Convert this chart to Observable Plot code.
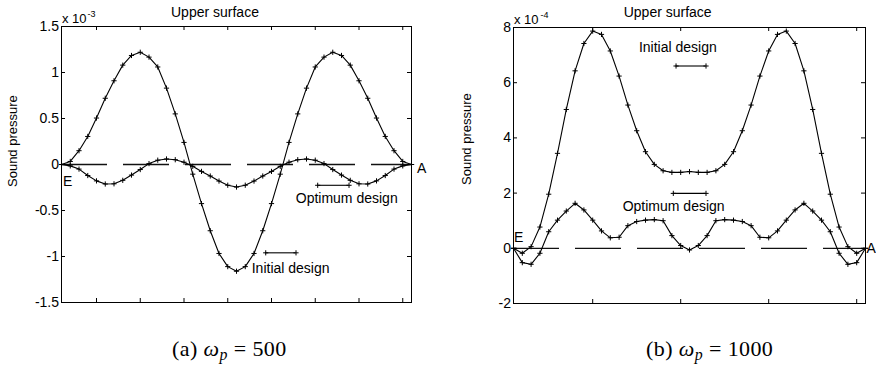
<!DOCTYPE html>
<html><head><meta charset="utf-8">
<script src="https://cdn.jsdelivr.net/npm/d3@7"></script>
<script src="https://cdn.jsdelivr.net/npm/@observablehq/plot@0.6"></script>
<style>
body{margin:0;background:#fff;}
#wrap{position:relative;width:876px;height:367px;overflow:hidden;background:#fff;}
#wrap svg{position:absolute;top:0;}
.cap{position:absolute;top:338px;font-family:"Liberation Serif","Times New Roman",serif;font-size:22px;letter-spacing:0.4px;line-height:1;white-space:nowrap;color:#000;}
.cap i{font-style:italic;}
.cap sub{font-style:italic;font-size:0.72em;vertical-align:-0.28em;line-height:0;}
</style></head><body><div id="wrap"></div>
<script>
// point index along the upper surface (E -> A)
const pointIndex = d3.range(41);

// (a) omega_p = 500, values x 1e-3
const initialA = [0, 0.033, 0.15, 0.305, 0.505, 0.72, 0.91, 1.08, 1.185, 1.22, 1.167, 1.06, 0.83, 0.55, 0.24, -0.105, -0.425, -0.72, -0.967, -1.11, -1.16,
  -1.11, -0.967, -0.72, -0.425, -0.105, 0.24, 0.55, 0.83, 1.06, 1.167, 1.22, 1.185, 1.08, 0.91, 0.72, 0.505, 0.305, 0.15, 0.033, 0];
const optimumA = [0, -0.015, -0.05, -0.12, -0.178, -0.212, -0.21, -0.172, -0.115, -0.055, 0.01, 0.047, 0.06, 0.052, 0.025, -0.02, -0.075, -0.125, -0.18, -0.225, -0.245,
  -0.225, -0.18, -0.125, -0.075, -0.02, 0.025, 0.052, 0.06, 0.047, 0.01, -0.055, -0.115, -0.172, -0.21, -0.212, -0.178, -0.12, -0.05, -0.015, 0];

// (b) omega_p = 1000, values x 1e-4
const initialB = [0, -0.18, 0.06, 0.77, 1.96, 3.44, 5.03, 6.43, 7.42, 7.87, 7.75, 7.15, 6.24, 5.19, 4.26, 3.5, 3.04, 2.81, 2.75, 2.75, 2.78,
  2.75, 2.75, 2.81, 3.04, 3.5, 4.26, 5.19, 6.24, 7.15, 7.75, 7.87, 7.42, 6.43, 5.03, 3.44, 1.96, 0.77, 0.06, -0.18, 0];
const optimumB = [0, -0.52, -0.58, -0.18, 0.6, 1.02, 1.35, 1.63, 1.39, 1.02, 0.63, 0.38, 0.4, 0.82, 0.97, 1.02, 1.04, 1.0, 0.46, 0.1, -0.06,
  0.1, 0.46, 1.0, 1.04, 1.02, 0.97, 0.82, 0.4, 0.38, 0.63, 1.02, 1.39, 1.63, 1.35, 1.02, 0.6, -0.18, -0.58, -0.52, 0];

const yTicksA = [-1.5, -1, -0.5, 0, 0.5, 1, 1.5];
const yTicksB = [-2, 0, 2, 4, 6, 8];
const xTicksA = [4, 9, 14, 19, 24, 29, 34, 39];
const xTicksB = [9, 19, 29, 39];

const titleText = "Upper surface";
const yLabelText = "Sound pressure";
const seriesNames = ["Initial design", "Optimum design"];

// annotation placements (data coordinates)
const labelsA = [
  {x: 17.54, y: 1.65, text: titleText, anchor: "middle"},
  {x: 21.74, y: -1.13, text: seriesNames[0], anchor: "start"},
  {x: 26.77, y: -0.375, text: seriesNames[1], anchor: "start"},
  {x: 0.17, y: -0.18, text: "E", anchor: "start"},
  {x: 40.63, y: -0.04, text: "A", anchor: "start"}
];
const segmentsA = [
  {x1: 23.34, x2: 26.8, y: -0.96},
  {x1: 29.28, x2: 32.86, y: -0.226}
];
const labelsB = [
  {x: 17.52, y: 8.536, text: titleText, anchor: "middle"},
  {x: 18.67, y: 7.27, text: seriesNames[0], anchor: "middle"},
  {x: 18.2, y: 1.507, text: seriesNames[1], anchor: "middle"},
  {x: 0.06, y: 0.373, text: "E", anchor: "start"},
  {x: 40.12, y: 0, text: "A", anchor: "start"}
];
const segmentsB = [
  {x1: 18.47, x2: 21.875, y: 6.605},
  {x1: 18.16, x2: 21.875, y: 1.99}
];

const plusSymbol = {
  draw(ctx, size) {
    const r = Math.sqrt(size / Math.PI);
    ctx.moveTo(-r, 0); ctx.lineTo(r, 0);
    ctx.moveTo(0, -r); ctx.lineTo(0, r);
  }
};

function panel(o) {
  const xDomain = [0, 40];
  const pw = o.W - o.mL - o.mR, ph = o.H - o.mT - o.mB;
  const tx = 4 * (xDomain[1] - xDomain[0]) / pw;
  const ty = 4 * (o.yDomain[1] - o.yDomain[0]) / ph;
  const rows = (arr, name) => arr.map((v, k) => ({i: pointIndex[k], v, s: name}));
  const data = [...rows(o.initial, seriesNames[0]), ...rows(o.optimum, seriesNames[1])];
  const segPts = o.segs.flatMap(s => [{i: s.x1, v: s.y}, {i: s.x2, v: s.y}]);
  const font = '"Liberation Sans", Arial, Helvetica, sans-serif';
  const txt = (anchor) => Plot.text(o.labels.filter(d => d.anchor === anchor), {
    x: "x", y: "y", text: "text", textAnchor: anchor, lineAnchor: "middle", fontSize: 14, fill: "black"
  });
  return Plot.plot({
    width: o.W, height: o.H,
    marginLeft: o.mL, marginRight: o.mR, marginTop: o.mT, marginBottom: o.mB,
    x: {domain: xDomain, axis: null},
    y: {domain: o.yDomain, axis: null, label: null},
    style: {fontFamily: font, fontSize: "14px", color: "black", background: "white", overflow: "visible"},
    marks: [
      Plot.ruleY([0], {stroke: "#111", strokeWidth: 1.3, strokeDasharray: "46,16"}),
      Plot.line(data, {x: "i", y: "v", z: "s", stroke: "black", strokeWidth: 1.1}),
      Plot.dot(data, {x: "i", y: "v", symbol: plusSymbol, r: 2.6, stroke: "black", fill: "none", strokeWidth: 1}),
      Plot.ruleY(o.segs, {y: "y", x1: "x1", x2: "x2", stroke: "black", strokeWidth: 1.1}),
      Plot.dot(segPts, {x: "i", y: "v", symbol: plusSymbol, r: 2.6, stroke: "black", fill: "none", strokeWidth: 1}),
      txt("start"), txt("middle"),
      Plot.axisY({ticks: o.yTicks, tickSize: 0, tickPadding: 2.5, tickFormat: d => String(d), label: null, fontSize: 14}),
      Plot.ruleY(o.yTicks, {y: d => d, x1: xDomain[0], x2: xDomain[0] + tx, stroke: "black"}),
      Plot.ruleY(o.yTicks, {y: d => d, x1: xDomain[1] - tx, x2: xDomain[1], stroke: "black"}),
      Plot.ruleX(o.xTicks, {x: d => d, y1: o.yDomain[0], y2: o.yDomain[0] + ty, stroke: "black"}),
      Plot.ruleX(o.xTicks, {x: d => d, y1: o.yDomain[1] - ty, y2: o.yDomain[1], stroke: "black"}),
      Plot.frame({stroke: "black", strokeWidth: 1}),
      Plot.text([yLabelText], {frameAnchor: "left", rotate: -90, dx: o.ylDx, dy: o.ylDy, fontSize: 13, fill: "black"}),
      Plot.text(["x 10"], {frameAnchor: "top-left", textAnchor: "start", lineAnchor: "bottom", dx: 0.5, dy: -4, fontSize: 13, fill: "black"}),
      Plot.text([o.exp], {frameAnchor: "top-left", textAnchor: "start", lineAnchor: "bottom", dx: o.expDx, dy: -9.5, fontSize: 9, fill: "black"})
    ]
  });
}

const wrap = document.getElementById("wrap");
const a = panel({initial: initialA, optimum: optimumA, yDomain: [-1.5, 1.5], yTicks: yTicksA, xTicks: xTicksA,
  W: 438, H: 320, mL: 61, mR: 27, mT: 26, mB: 18, labels: labelsA, segs: segmentsA, exp: "-3", expDx: 26,
  ylDx: -48.5, ylDy: 22.5});
a.style.left = "0px";
wrap.appendChild(a);
const b = panel({initial: initialB, optimum: optimumB, yDomain: [-2, 8], yTicks: yTicksB, xTicks: xTicksB,
  W: 436, H: 320, mL: 73, mR: 11, mT: 27, mB: 17, labels: labelsB, segs: segmentsB, exp: "-4", expDx: 27,
  ylDx: -46.8, ylDy: 19.5});
b.style.left = "440px";
wrap.appendChild(b);

const captions = [
  {left: 172, tag: "(a)", value: "500"},
  {left: 646, tag: "(b)", value: "1000"}
];
for (const c of captions) {
  const d = document.createElement("div");
  d.className = "cap";
  d.style.left = c.left + "px";
  d.innerHTML = `${c.tag} <i>ω</i><sub>p</sub> = ${c.value}`;
  wrap.appendChild(d);
}
</script></body></html>
